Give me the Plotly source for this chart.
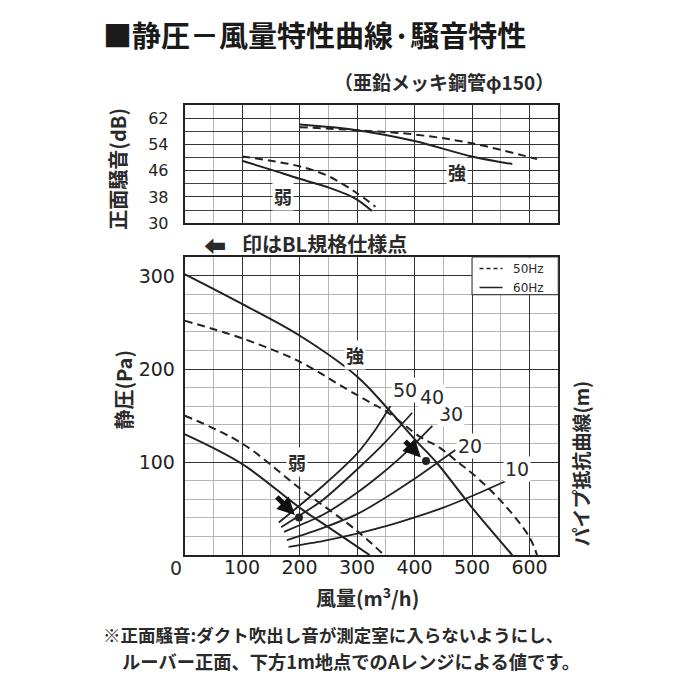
import plotly.graph_objects as go

# ---------------- data ----------------
# top chart: noise (dB) vs air volume
noise_strong60_x = [200, 300, 400, 500, 570]
noise_strong60_y = [60, 58.3, 55, 50.3, 48]
noise_strong50_x = [200, 300, 400, 500, 613]
noise_strong50_y = [59.2, 58.3, 57, 54.3, 49.5]
noise_weak60_x = [100, 150, 200, 248, 297, 326]
noise_weak60_y = [49, 46.3, 43.5, 41, 37.5, 33.7]
noise_weak50_x = [100, 150, 200, 248, 297, 332]
noise_weak50_y = [50.3, 49, 47.3, 44.5, 39.5, 35]

# bottom chart: static pressure (Pa) vs air volume
sp_strong60_x = [0, 100, 200, 300, 354, 404, 439, 500, 570]
sp_strong60_y = [302, 270, 236, 192, 157, 122, 99, 51, 0]
sp_strong50_x = [0, 100, 200, 283, 323, 352, 410, 445, 477, 500, 555, 600, 613]
sp_strong50_y = [252, 233, 208, 178, 164, 154, 127, 115, 99, 88, 55, 19, 0]
sp_weak60_x = [0, 100, 200, 250, 322]
sp_weak60_y = [130, 98, 51, 30, 0]
sp_weak50_x = [0, 100, 200, 300, 347]
sp_weak50_y = [150, 120, 72, 26, 0]

# pipe resistance curves (m)
pipe_labels = ["10", "20", "30", "40", "50"]
pipe_x = [
    [181, 240, 300, 350, 400, 450, 500, 558],
    [178, 240, 300, 350, 400, 471],
    [173, 240, 300, 340, 381, 431],
    [168, 240, 300, 350, 396],
    [164, 240, 300, 330, 358],
]
pipe_y = [
    [8.8, 15, 23, 31, 40.5, 51, 63.5, 79.4],
    [16, 29, 44, 62, 82, 113],
    [25, 43, 67, 86, 108, 139],
    [30, 59, 92, 122, 153],
    [35, 74, 109, 133, 160],
]
pipe_label_x = [579, 497, 463, 431, 384]
pipe_label_y = [92, 117, 152, 170, 177]

# BL spec points and arrows (tail -> head)
spec_x = [199, 420]
spec_y = [40.5, 101]
arrow_tail_x = [158, 381]
arrow_tail_y = [64, 124]
arrow_head_x = [192, 411]
arrow_head_y = [43, 105]

x_ticks = [100, 200, 300, 400, 500, 600]
top_y_ticks = [30, 38, 46, 54, 62]
bot_y_ticks = [100, 200, 300]

# ---------------- figure ----------------
INK = "#222222"
CJK = "Noto Sans CJK JP"
NUM = "DejaVu Sans"

# the page places the figure 8px from the left edge
OX = 8
FW = 692
FH = 700

def PX(px):
    return (px - OX) / FW

def PY(py):
    return 1 - py / FH

fig = go.Figure()

def add_line(x, y, xa, ya, dash=None, width=2.0, smoothing=1.0):
    fig.add_trace(go.Scatter(
        x=x, y=y, xaxis=xa, yaxis=ya, mode="lines",
        line=dict(color=INK, width=width, dash=dash if dash else "solid", shape="spline",
                  smoothing=smoothing),
        hoverinfo="skip", showlegend=False))

DASH = "8px,5px"
add_line(noise_strong60_x, noise_strong60_y, "x", "y")
add_line(noise_strong50_x, noise_strong50_y, "x", "y", DASH)
add_line(noise_weak60_x, noise_weak60_y, "x", "y")
add_line(noise_weak50_x, noise_weak50_y, "x", "y", DASH)

add_line(sp_strong60_x, sp_strong60_y, "x2", "y2")
add_line(sp_strong50_x, sp_strong50_y, "x2", "y2", DASH)
add_line(sp_weak60_x, sp_weak60_y, "x2", "y2")
add_line(sp_weak50_x, sp_weak50_y, "x2", "y2", DASH)
for px, py in zip(pipe_x, pipe_y):
    add_line(px, py, "x2", "y2", width=1.8, smoothing=0.6)

fig.add_trace(go.Scatter(x=spec_x, y=spec_y, xaxis="x2", yaxis="y2", mode="markers",
                         marker=dict(color=INK, size=8), hoverinfo="skip", showlegend=False))

XDOM = [PX(184.5), PX(558.3)]
TOP_DOM = [PY(218.3), PY(98.3)]
BOT_DOM = [PY(555), PY(253)]

axis_common = dict(showline=True, mirror=True, linecolor=INK, linewidth=1.6, zeroline=False)

fig.update_layout(
    width=FW, height=FH, margin=dict(l=0, r=0, t=0, b=0),
    paper_bgcolor="white", plot_bgcolor="white", showlegend=False,
    xaxis=dict(domain=XDOM, range=[0, 650], anchor="y", tickvals=[0] + x_ticks, showticklabels=False,
               showgrid=True, gridcolor="#333333", gridwidth=1.4,
               minor=dict(dtick=50, tick0=0, showgrid=True, gridcolor="#b5b5b5", gridwidth=1),
               **axis_common),
    yaxis=dict(domain=TOP_DOM, range=[30, 66], anchor="x", tickvals=top_y_ticks,
               showgrid=True, gridcolor="#333333", gridwidth=1.2,
               minor=dict(dtick=4, tick0=30, showgrid=True, gridcolor="#444444", gridwidth=1.1),
               tickfont=dict(family=NUM, size=16, color=INK), ticks="", ticklabelstandoff=11,
               **axis_common),
    xaxis2=dict(domain=XDOM, range=[0, 650], anchor="y2", tickvals=x_ticks,
                showgrid=True, gridcolor="#333333", gridwidth=1.4,
                minor=dict(dtick=50, tick0=0, showgrid=True, gridcolor="#b5b5b5", gridwidth=1),
                tickfont=dict(family=NUM, size=19, color=INK), ticks="", ticklabelstandoff=-6,
                **axis_common),
    yaxis2=dict(domain=BOT_DOM, range=[0, 320], anchor="x2", tickvals=bot_y_ticks,
                showgrid=True, gridcolor="#333333", gridwidth=1.4,
                minor=dict(dtick=20, tick0=0, showgrid=True, gridcolor="#b5b5b5", gridwidth=1),
                tickfont=dict(family=NUM, size=19, color=INK), ticks="", ticklabelstandoff=4,
                **axis_common),
)

# legend box inside bottom chart
fig.add_shape(type="rect", xref="x2", yref="y2", x0=500, x1=650, y0=280, y1=320,
              fillcolor="white", line=dict(color="#444444", width=1.2), layer="above")
fig.add_shape(type="line", xref="x2", yref="y2", x0=513, x1=553, y0=308, y1=308,
              line=dict(color=INK, width=1.5, dash="4px,3px"), layer="above")
fig.add_shape(type="line", xref="x2", yref="y2", x0=513, x1=553, y0=287.5, y1=287.5,
              line=dict(color=INK, width=1.5), layer="above")

ann = []
def text(x, y, s, size=17, xref="paper", yref="paper", xanchor="center", bold=False,
         family=CJK, bg=None, angle=0, color="#2a2a2a"):
    d = dict(x=x, y=y, xref=xref, yref=yref, text=s, showarrow=False, xanchor=xanchor,
             yanchor="middle", textangle=angle,
             font=dict(family=family, size=size, color=color, weight="bold" if bold else "normal"))
    if bg:
        d["bgcolor"] = bg
        d["borderpad"] = 1
    ann.append(d)

def P(px, py):
    return PX(px), PY(py)

# titles / notes
text(*P(101, 26), "■静圧－風量特性曲線·騒音特性", size=29, xanchor="left", bold=True, color="#1a1a1a")
text(*P(556, 75), "（亜鉛メッキ鋼管φ150）", size=19, xanchor="right", bold=True)
text(*P(202, 239), "⬅", size=22, xanchor="left", bold=True)
text(*P(240, 239), "印はBL規格仕様点", size=20, xanchor="left", bold=True)
text(*P(101, 636), "※正面騒音:ダクト吹出し音が測定室に入らないようにし、", size=17.5, xanchor="left", bold=True)
text(*P(120, 662), "ルーバー正面、下方1m地点でのAレンジによる値です。", size=18.3, xanchor="left", bold=True)

# axis titles
text(*P(118, 163), "正面騒音(dB)", size=20, angle=-90, bold=True)
text(*P(123, 387), "静圧(Pa)", size=20, angle=-90, bold=True)
text(*P(580, 462), "パイプ抵抗曲線(m)", size=19, angle=-90, bold=True)
text(*P(367, 598), "風量(m<sup>3</sup>/h)", size=20, bold=True)

# x-axis zero label (drawn left of the origin as in the original)
text(*P(176, 568), "0", size=19, family=NUM)

# legend text
text(567, 308, "50Hz", size=12, xref="x2", yref="y2", xanchor="left", family=NUM)
text(567, 287.5, "60Hz", size=12, xref="x2", yref="y2", xanchor="left", family=NUM)

# curve labels
text(474, 45.5, "強", size=18, xref="x", yref="y", bg="white", bold=True)
text(172, 38.3, "弱", size=18, xref="x", yref="y", bg="white", bold=True)
text(297, 215, "強", size=18, xref="x2", yref="y2", bg="white", bold=True)
text(196, 100.5, "弱", size=18, xref="x2", yref="y2", bg="white", bold=True)
for lx, ly, lab in zip(pipe_label_x, pipe_label_y, pipe_labels):
    text(lx, ly, lab, size=19, xref="x2", yref="y2", family=NUM, bg="white")

# arrows to BL spec points
for tx, ty, hx, hy in zip(arrow_tail_x, arrow_tail_y, arrow_head_x, arrow_head_y):
    ann.append(dict(x=hx, y=hy, xref="x2", yref="y2", ax=tx, ay=ty, axref="x2", ayref="y2",
                    text="", showarrow=True, arrowhead=2, arrowsize=0.7, arrowwidth=5,
                    arrowcolor="#111111"))

fig.update_layout(annotations=ann)
fig.write_html("out.html")
